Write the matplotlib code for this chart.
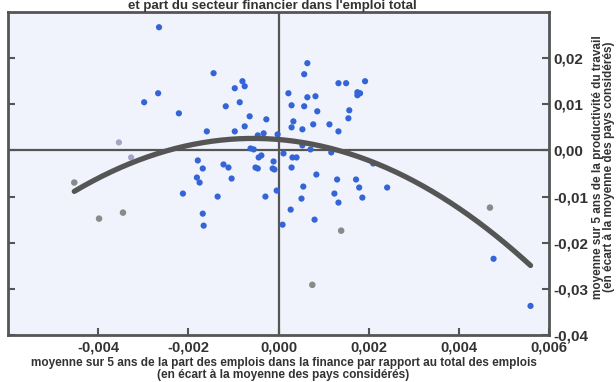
import matplotlib
matplotlib.use("Agg")
import matplotlib.pyplot as plt
import numpy as np
from matplotlib.ticker import FuncFormatter

plt.rcParams['font.family'] = ['Liberation Sans', 'DejaVu Sans']

blue_x = [-0.00265, -0.00144, -0.00267, -0.00298, -0.00221, -0.00159, -0.00080, -0.00075,
          -0.00097, -0.00086, -0.00117, -0.00064, -0.00027, -0.00075, -0.00097, -0.00046,
          -0.00033, -0.00002, 0.00064, 0.00057, 0.00022, 0.00064, 0.00082, 0.00029,
          0.00057, 0.00033, 0.00029, 0.00053, -0.00062, -0.00055, -0.00044, -0.00038,
          -0.00179, -0.00168, -0.00122, -0.00111, -0.00051, -0.00013, -0.00011, 0.00011,
          0.00031, 0.00040, 0.00029, -0.00181, -0.00175, -0.00104, -0.00212, -0.00135,
          -0.00029, -0.00004, 0.00055, 0.00051, -0.00168, -0.00166, 0.00027, 0.00009,
          0.00133, 0.00150, 0.00192, 0.00175, 0.00181, 0.00175, 0.00086, 0.00157,
          0.00155, 0.00077, 0.00113, 0.00133, 0.00053, 0.00071, 0.00117, 0.00210,
          0.00084, 0.00130, 0.00172, 0.00179, 0.00241, 0.00124, 0.00186, 0.00133,
          0.00080, 0.00477, 0.00559, -0.00046, -0.00009]
blue_y = [0.0267, 0.01674, 0.01239, 0.01044, 0.00804, 0.00413, 0.0150, 0.01391,
          0.01348, 0.01044, 0.00957, 0.00739, 0.00674, 0.00522, 0.00413, 0.00326,
          0.00370, 0.00348, 0.01891, 0.01652, 0.01239, 0.01152, 0.01174, 0.00978,
          0.00957, 0.00630, 0.00500, 0.00457, 0.00043, 0.00022, -0.00152, -0.00109,
          -0.00217, -0.00391, -0.00304, -0.00370, -0.00370, -0.00391, -0.00239, -0.00065,
          -0.00152, -0.00152, -0.00370, -0.00587, -0.00696, -0.00609, -0.00935, -0.01000,
          -0.01000, -0.00870, -0.00783, -0.01044, -0.01370, -0.01630, -0.01283, -0.01609,
          0.01457, 0.01457, 0.0150, 0.01261, 0.01239, 0.01196, 0.00848, 0.00870,
          0.00696, 0.00565, 0.00565, 0.00413, 0.00109, 0.00022, -0.00043, -0.00283,
          -0.00522, -0.00630, -0.00630, -0.00804, -0.00804, -0.00935, -0.01022, -0.01130,
          -0.01500, -0.02348, -0.03370, -0.00391, -0.00413]

light_x = [-0.00354, -0.00327]
light_y = [0.00174, -0.00152]

grey_x = [-0.00453, -0.00398, -0.00345, 0.00139, 0.00075, 0.00469]
grey_y = [-0.00696, -0.01478, -0.01348, -0.01739, -0.02913, -0.01239]

# quadratic fit curve y = a x^2 + b x + c (coefficients)
fit_a, fit_b, fit_c = -728.0, -0.8154, 0.002372
fit_xmin, fit_xmax = -0.00453, 0.00559

xticks = [-0.004, -0.002, 0.000, 0.002, 0.004, 0.006]
yticks = [-0.04, -0.03, -0.02, -0.01, 0.00, 0.01, 0.02]

fig = plt.figure(figsize=(6.16, 3.82), dpi=100)
ax = fig.add_axes([8/616, 1-335/382, (549-8)/616, (335-12)/382])
ax.set_facecolor('#f0f3fb')
ax.set_xlim(-0.006, 0.006)
ax.set_ylim(-0.04, 0.03)

dark = '#555555'
ax.axhline(0, color=dark, lw=1.6, zorder=1)
ax.axvline(0, color=dark, lw=1.6, zorder=1)

ax.scatter(blue_x, blue_y, s=20, color='#3465d6', edgecolors='none', zorder=3)
ax.scatter(light_x, light_y, s=20, color='#a4a4c4', edgecolors='none', zorder=3)
ax.scatter(grey_x, grey_y, s=22, color='#8a8a8a', edgecolors='none', zorder=3)

xs = np.linspace(fit_xmin, fit_xmax, 200)
ax.plot(xs, fit_a*xs**2 + fit_b*xs + fit_c, color='#555555', lw=3.8,
        solid_capstyle='round', zorder=4)

for s in ax.spines.values():
    s.set_color(dark)
    s.set_linewidth(2)

fmt = lambda v, p: f"{v:.3f}".replace('.', ',').replace('-0,000', '0,000')
fmt2 = lambda v, p: f"{v:.2f}".replace('.', ',').replace('-0,00', '0,00')
ax.set_xticks(xticks)
ax.xaxis.set_major_formatter(FuncFormatter(fmt))
ax.set_yticks(yticks)
ax.yaxis.set_major_formatter(FuncFormatter(fmt2))
ax.yaxis.tick_right()
ax.tick_params(axis='y', which='both', left=True, right=True, direction='in',
               length=5, width=1.5, color=dark, labelsize=11, labelcolor='#333333', pad=3)
ax.tick_params(axis='x', direction='in', length=5, width=1.5, color=dark,
               labelsize=10.5, labelcolor='#333333', pad=4)
for lab in ax.get_xticklabels() + ax.get_yticklabels():
    lab.set_fontweight('bold')

fig.text(284/616, 1-363/382, "moyenne sur 5 ans de la part des emplois dans la finance par rapport au total des emplois",
         ha='center', va='center', fontsize=8.5, fontweight='bold', color='#333333')
fig.text(283/616, 1-375/382, "(en écart à la moyenne des pays considérés)",
         ha='center', va='center', fontsize=8.6, fontweight='bold', color='#333333')
fig.text(598/616, 1-167/382, "moyenne sur 5 ans de la productivité du travail",
         ha='center', va='center', rotation=90, fontsize=8.5, fontweight='bold', color='#333333')
fig.text(609/616, 1-167/382, "(en écart à la moyenne des pays considérés)",
         ha='center', va='center', rotation=90, fontsize=8.5, fontweight='bold', color='#333333')

fig.text(272/616, 1-0.5/382, "et part du secteur financier dans l'emploi total",
         ha='center', va='top', fontsize=9.5, fontweight='bold', color='#333333')

fig.savefig('out.png', dpi=100, facecolor='white')
